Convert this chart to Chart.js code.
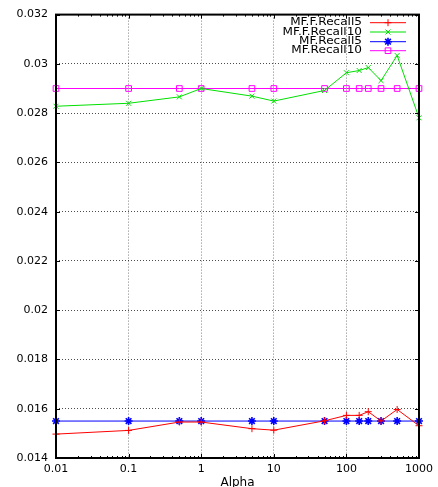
<!DOCTYPE html>
<html>
<head>
<meta charset="utf-8">
<script src="https://cdn.jsdelivr.net/npm/chart.js@4/dist/chart.umd.min.js"></script>
<style>
  html, body { margin: 0; padding: 0; background: #fff; }
  #wrap { width: 438px; height: 487px; }
</style>
</head>
<body>
<div id="wrap"><canvas id="myChart" width="438" height="487"></canvas></div>
<script>
"use strict";

// data
const alphas = [0.01, 0.1, 0.5, 1, 5, 10, 50, 100, 150, 200, 300, 500, 1000];
const fRecall5 = [0.01497, 0.01512, 0.01546, 0.01546, 0.01519, 0.01513, 0.01551, 0.01573, 0.01573, 0.01588, 0.0155, 0.01597, 0.01531];
const fRecall10 = [0.02828, 0.0284, 0.02866, 0.0290, 0.02869, 0.02849, 0.02892, 0.02964, 0.02973, 0.02985, 0.02932, 0.03034, 0.02781];
const recall5 = [0.0155, 0.0155, 0.0155, 0.0155, 0.0155, 0.0155, 0.0155, 0.0155, 0.0155, 0.0155, 0.0155, 0.0155, 0.0155];
const recall10 = [0.0290, 0.0290, 0.0290, 0.0290, 0.0290, 0.0290, 0.0290, 0.0290, 0.0290, 0.0290, 0.0290, 0.0290, 0.0290];
const xTicks = [0.01, 0.1, 1, 10, 100, 1000];
const xTickLabels = ["0.01", "0.1", "1", "10", "100", "1000"];

function pts(ys) {
  return alphas.map((a, i) => ({ x: a, y: ys[i] }));
}

// gnuplot style frame, inward ticks and a legend inside the plot
const frame = {
  id: "frame",
  afterDraw(chart) {
    const ctx = chart.ctx;
    const a = chart.chartArea;
    const xs = chart.scales.x;
    const ys = chart.scales.y;
    ctx.save();
    ctx.strokeStyle = "#000";
    ctx.lineWidth = 1;
    // x ticks (major + minor), bottom and top
    for (let d = -2; d <= 3; d++) {
      for (let m = 1; m <= 9; m++) {
        const v = m * Math.pow(10, d);
        if (v > 1000) break;
        const px = Math.round(xs.getPixelForValue(v)) + 0.5;
        const len = m === 1 ? 4 : 2;
        ctx.beginPath();
        ctx.moveTo(px, a.bottom); ctx.lineTo(px, a.bottom - len);
        ctx.moveTo(px, a.top); ctx.lineTo(px, a.top + len);
        ctx.stroke();
      }
    }
    // y ticks left and right
    ys.ticks.forEach(t => {
      const py = Math.round(ys.getPixelForValue(t.value)) + 0.5;
      ctx.beginPath();
      ctx.moveTo(a.left, py); ctx.lineTo(a.left + 4, py);
      ctx.moveTo(a.right, py); ctx.lineTo(a.right - 4, py);
      ctx.stroke();
    });
    ctx.lineWidth = 2;
    ctx.strokeRect(a.left, a.top, a.right - a.left, a.bottom - a.top);

    // legend
    const rowY = [22.7, 32, 41.7, 50.7];
    chart.data.datasets.forEach((ds, i) => {
      const y = rowY[i];
      // text a bit wider than tall, like the gnuplot output
      ctx.save();
      ctx.font = "10.5px 'DejaVu Sans'";
      ctx.textAlign = "right";
      ctx.textBaseline = "middle";
      ctx.fillStyle = "#000";
      ctx.translate(362, y);
      ctx.scale(1.15, 1);
      ctx.fillText(ds.label, 0, 0);
      ctx.restore();
      ctx.strokeStyle = ds.borderColor;
      ctx.lineWidth = 1;
      ctx.beginPath();
      ctx.moveTo(370, y); ctx.lineTo(406, y);
      ctx.stroke();
      ctx.fillStyle = ds.backgroundColor;
      ctx.lineWidth = ds.pointBorderWidth || 1;
      Chart.helpers.drawPoint(ctx, {
        pointStyle: ds.pointStyle,
        radius: ds.pointRadius,
        borderWidth: ds.pointBorderWidth || 1
      }, 388, y);
    });
    ctx.restore();
  }
};

const ctx = document.getElementById("myChart").getContext("2d");
const chart = new Chart(ctx, {
  type: "line",
  data: {
    datasets: [
      {
        label: "MF.F.Recall5",
        data: pts(fRecall5),
        borderColor: "#ff0000",
        backgroundColor: "#ff0000",
        pointStyle: "cross",
        pointRadius: 3.5,
      },
      {
        label: "MF.F.Recall10",
        data: pts(fRecall10),
        borderColor: "#00e000",
        backgroundColor: "#00e000",
        pointStyle: "crossRot",
        pointRadius: 3.5,
      },
      {
        label: "MF.Recall5",
        data: pts(recall5),
        borderColor: "#0000ff",
        backgroundColor: "#0000ff",
        pointStyle: "star",
        pointRadius: 4,
        pointBorderWidth: 1.6,
      },
      {
        label: "MF.Recall10",
        data: pts(recall10),
        borderColor: "#ff00ff",
        backgroundColor: "rgba(0,0,0,0)",
        pointStyle: "rect",
        pointRadius: 4,
      },
    ],
  },
  options: {
    responsive: false,
    animation: false,
    clip: false,
    elements: {
      line: { borderWidth: 1, tension: 0 },
      point: { borderWidth: 1, hoverRadius: 4 },
    },
    layout: { padding: { left: 0, right: 16, top: 14, bottom: 0 } },
    plugins: {
      legend: { display: false },
      tooltip: { enabled: false },
    },
    scales: {
      x: {
        type: "logarithmic",
        min: 0.01,
        max: 1000,
        afterBuildTicks: (scale) => {
          scale.ticks = xTicks.map(v => ({ value: v, major: true }));
        },
        afterFit: (scale) => { scale.height = 29; },
        ticks: {
          autoSkip: false,
          maxRotation: 0,
          padding: 5,
          color: "#000",
          font: { family: "DejaVu Sans", size: 11 },
          callback: (v) => {
            const i = xTicks.indexOf(v);
            return i >= 0 ? xTickLabels[i] : "";
          },
        },
        grid: {
          drawTicks: false,
          color: "rgba(0,0,0,0.5)",
          lineWidth: 1,
        },
        border: { display: false, dash: [1, 2] },
        title: {
          display: true,
          text: "Alpha",
          color: "#000",
          font: { family: "DejaVu Sans", size: 12 },
          padding: { top: 0, bottom: -3 },
        },
      },
      y: {
        min: 0.014,
        max: 0.032,
        afterFit: (scale) => { scale.width = 56; },
        ticks: {
          stepSize: 0.002,
          padding: 8,
          color: "#000",
          font: { family: "DejaVu Sans", size: 11 },
          callback: (v) => String(parseFloat(v.toFixed(3))),
        },
        grid: {
          drawTicks: false,
          color: "rgba(0,0,0,0.7)",
          lineWidth: 1,
        },
        border: { display: false, dash: [1, 2] },
      },
    },
  },
  plugins: [frame],
});
</script>
</body>
</html>
